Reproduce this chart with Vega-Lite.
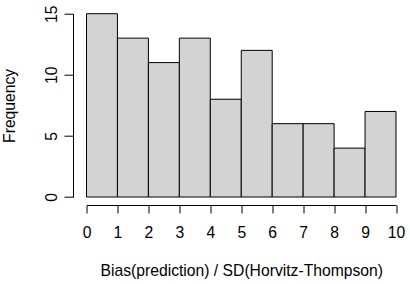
{
  "$schema": "https://vega.github.io/schema/vega-lite/v6.json",
  "autosize": "none",
  "width": 309.5,
  "height": 183.3,
  "padding": {"left": 86.5, "top": 13.7, "right": 14, "bottom": 87},
  "background": "white",
  "config": {"view": {"stroke": null}, "font": "Liberation Sans"},
  "data": {"values": [
    {"bin_start": 0, "bin_end": 1, "count": 15},
    {"bin_start": 1, "bin_end": 2, "count": 13},
    {"bin_start": 2, "bin_end": 3, "count": 11},
    {"bin_start": 3, "bin_end": 4, "count": 13},
    {"bin_start": 4, "bin_end": 5, "count": 8},
    {"bin_start": 5, "bin_end": 6, "count": 12},
    {"bin_start": 6, "bin_end": 7, "count": 6},
    {"bin_start": 7, "bin_end": 8, "count": 6},
    {"bin_start": 8, "bin_end": 9, "count": 4},
    {"bin_start": 9, "bin_end": 10, "count": 7}
  ]},
  "mark": {"type": "rect", "fill": "#d3d3d3", "stroke": "black", "strokeWidth": 1},
  "encoding": {
    "x": {
      "field": "bin_start", "type": "quantitative",
      "scale": {"domain": [0, 10], "nice": false, "zero": false},
      "axis": {
        "title": "Bias(prediction) / SD(Horvitz-Thompson)",
        "values": [0,1,2,3,4,5,6,7,8,9,10],
        "grid": false, "offset": 8, "labelFlush": false, "labelOverlap": false,
        "domainColor": "black", "tickColor": "black", "tickSize": 8,
        "labelColor": "black", "labelFontSize": 15.7, "labelPadding": 12,
        "labelFont": "Liberation Sans",
        "titleColor": "black", "titleFontSize": 15.7, "titleFontWeight": "normal",
        "titleFont": "Liberation Sans", "titlePadding": 24
      }
    },
    "x2": {"field": "bin_end"},
    "y": {
      "field": "count", "type": "quantitative",
      "scale": {"domain": [0, 15], "nice": false},
      "axis": {
        "title": "Frequency",
        "values": [0,5,10,15],
        "grid": false, "offset": 13.5, "labelFlush": false, "labelOverlap": false,
        "domainColor": "black", "tickColor": "black", "tickSize": 9,
        "labelColor": "black", "labelFontSize": 15.7, "labelAngle": -90,
        "labelAlign": "center", "labelBaseline": "bottom", "labelPadding": 5,
        "labelFont": "Liberation Sans",
        "titleColor": "black", "titleFontSize": 15.7, "titleFontWeight": "normal",
        "titleFont": "Liberation Sans", "titlePadding": 26
      }
    },
    "y2": {"datum": 0}
  }
}
